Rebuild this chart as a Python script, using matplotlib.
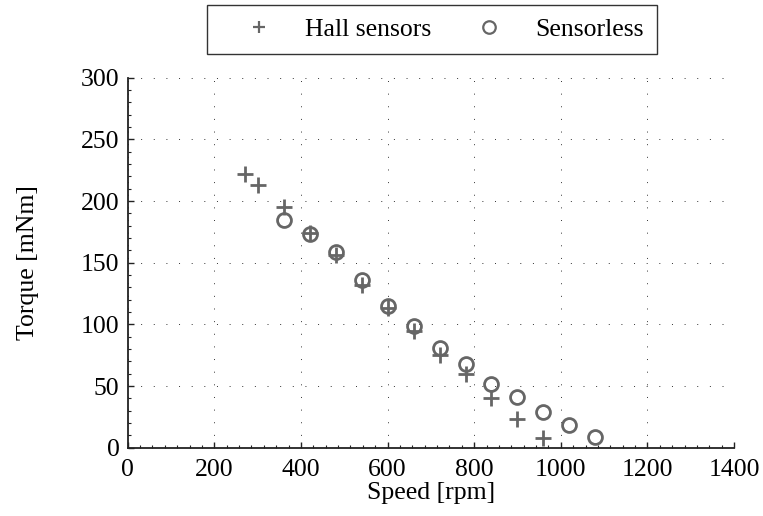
import matplotlib
matplotlib.use("Agg")
import matplotlib.pyplot as plt
from matplotlib.ticker import MultipleLocator, AutoMinorLocator

# Measured torque-speed points
hall_speed = [270, 300, 360, 420, 480, 540, 600, 660, 720, 780, 840, 900, 960]
hall_torque = [222, 213, 195, 174, 156, 132, 113, 95, 75, 60, 40, 23, 8]

sensorless_speed = [360, 420, 480, 540, 600, 660, 720, 780, 840, 900, 960, 1020, 1080]
sensorless_torque = [185, 173, 159, 136, 115, 99, 81, 68, 52, 41, 29, 18, 9]

x_ticks = [0, 200, 400, 600, 800, 1000, 1200, 1400]
y_ticks = [0, 50, 100, 150, 200, 250, 300]

plt.rcParams["font.family"] = ["Liberation Serif", "DejaVu Serif"]
plt.rcParams["font.size"] = 18.5

mark_color = "#666666"

fig = plt.figure(figsize=(7.63, 5.16), dpi=100)
ax = fig.add_axes([0.1674, 0.1324, 0.7946, 0.717])

h1, = ax.plot(hall_speed, hall_torque, linestyle="none", marker="+",
              markersize=11, markeredgewidth=2.0, color=mark_color,
              label="Hall sensors", clip_on=False)
h2, = ax.plot(sensorless_speed, sensorless_torque, linestyle="none", marker="o",
              markersize=10, markeredgewidth=2.0, markerfacecolor="none",
              markeredgecolor=mark_color, label="Sensorless", clip_on=False)

ax.set_xlim(0, 1400)
ax.set_ylim(0, 300)
ax.set_xticks(x_ticks)
ax.set_yticks(y_ticks)
ax.xaxis.set_minor_locator(AutoMinorLocator(7))
ax.yaxis.set_minor_locator(MultipleLocator(10))

ax.spines["top"].set_visible(False)
ax.spines["right"].set_visible(False)
for s in ("left", "bottom"):
    ax.spines[s].set_linewidth(1.3)
    ax.spines[s].set_color("#222222")

ax.tick_params(which="major", direction="in", length=4.5, width=1.0,
               color="#222222", pad=6)
ax.tick_params(which="minor", direction="in", length=2.5, width=0.8,
               color="#222222")
ax.tick_params(axis="x", pad=8)

ax.grid(True, which="major", color="#333333", linewidth=0.7,
        linestyle=(0, (1, 12)))

ax.set_xlabel("Speed [rpm]", labelpad=1)
ax.set_ylabel("Torque [mNm]", labelpad=30)

leg = fig.legend(handles=[h1, h2], loc="center", bbox_to_anchor=(0.566, 0.943),
                 ncol=2, frameon=True, fancybox=False, edgecolor="black",
                 handlelength=3.0, handletextpad=0.3, columnspacing=0.75,
                 borderpad=0.5, borderaxespad=0, fontsize=18.5)
leg.get_frame().set_linewidth(1.0)
for lh in leg.legend_handles:
    lh.set_markersize(9)
    lh.set_markeredgewidth(1.6)

fig.savefig("out.png", dpi=100)
